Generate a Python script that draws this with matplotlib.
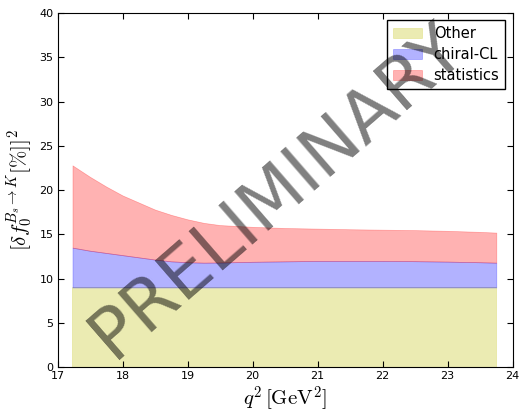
import matplotlib
matplotlib.use("Agg")
import matplotlib.pyplot as plt
import numpy as np

plt.rcParams['mathtext.fontset'] = 'cm'
plt.rcParams['font.family'] = 'DejaVu Sans'

# q^2 grid and error budget contributions (stacked)
q2 = [17.23, 17.5, 17.75, 18.0, 18.25, 18.5, 18.75, 19.0, 19.25, 19.5,
      20.0, 20.5, 21.0, 21.5, 22.0, 22.5, 23.0, 23.5, 23.75]
other = [9.0] * 19
chiral = [4.5, 4.15, 3.9, 3.65, 3.4, 3.15, 2.95, 2.85, 2.8, 2.82,
          2.9, 2.95, 3.0, 3.0, 3.0, 2.97, 2.92, 2.85, 2.8]
stat = [9.3, 8.35, 7.5, 6.75, 6.2, 5.65, 5.25, 4.85, 4.5, 4.23,
        3.95, 3.77, 3.65, 3.58, 3.53, 3.51, 3.48, 3.43, 3.4]

q2 = np.array(q2)
lev1 = np.array(other)
lev2 = lev1 + np.array(chiral)
lev3 = lev2 + np.array(stat)

fig = plt.figure(figsize=(5.23, 4.12), dpi=100)
ax = fig.add_axes([0.11, 0.109, 0.87, 0.859])

ax.fill_between(q2, 0, lev1, color='y', alpha=0.3, lw=0.5, label='Other')
ax.fill_between(q2, lev1, lev2, color='b', alpha=0.3, lw=0.5, label='chiral-CL')
ax.fill_between(q2, lev2, lev3, color='r', alpha=0.3, lw=0.5, label='statistics')

ax.set_xlim(17, 24)
ax.set_ylim(0, 40)
ax.set_xticks(range(17, 25))
ax.set_yticks(range(0, 41, 5))
ax.tick_params(direction='in', top=True, right=True, labelsize=8, length=4, pad=3)

ax.set_xlabel(r'$q^2\,[\mathrm{GeV}^2]$', fontsize=15, labelpad=2)
ax.set_ylabel(r'$[\delta f_0^{B_s\to K}[\%]]^2$', fontsize=15, labelpad=2)

leg = ax.legend(loc='upper right', fontsize=10.5, fancybox=False, framealpha=1,
                handlelength=2.0, borderpad=0.4, labelspacing=0.4)
leg.get_frame().set_edgecolor('black')

# watermark on top of everything
ax.text(17.85, 0.84, 'PRELIMINARY', fontsize=51, color='black', alpha=0.5,
        rotation=41, rotation_mode='anchor', ha='left', va='baseline',
        clip_on=False, zorder=10)

fig.savefig('out.png', dpi=100)
